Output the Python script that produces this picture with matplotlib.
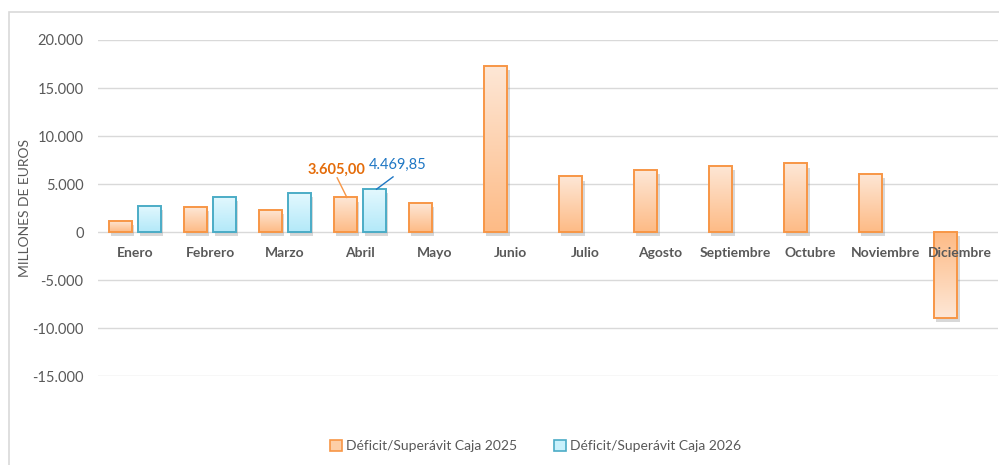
import matplotlib
matplotlib.use("Agg")
import matplotlib.pyplot as plt
import matplotlib.patheffects as pe
import numpy as np
from matplotlib.colors import LinearSegmentedColormap
from matplotlib.patches import Patch, Rectangle

months = ["Enero", "Febrero", "Marzo", "Abril", "Mayo", "Junio", "Julio",
          "Agosto", "Septiembre", "Octubre", "Noviembre", "Diciembre"]
caja_2025 = [1150, 2600, 2350, 3605.00, 3000, 17300, 5800, 6450, 6900, 7150, 6100, -8950]
caja_2026 = [2750, 3700, 4050, 4469.85]
series_names = ["Déficit/Superávit Caja 2025", "Déficit/Superávit Caja 2026"]
yticks = [-15000, -10000, -5000, 0, 5000, 10000, 15000, 20000]

plt.rcParams["font.family"] = ["Lato", "DejaVu Sans"]
grey_txt = "#595959"
orange_edge = "#f79646"
blue_edge = "#4bacc6"
orange_cmap = LinearSegmentedColormap.from_list("o", ["#fdbb86", "#fee7d6"])
blue_cmap = LinearSegmentedColormap.from_list("b", ["#b3e9f9", "#e3f8fe"])


def fmt_es(v):
    s = f"{abs(v):,.0f}".replace(",", ".")
    return ("-" if v < 0 else "") + s


fig = plt.figure(figsize=(9.99, 4.65), dpi=100)
ax = fig.add_axes([0.0976, 0.191, 0.901, 0.723])

# outer chart border
fig.patches.append(Rectangle((9 / 999, -0.05), 1.2, 1 - 12 / 465 + 0.05,
                             transform=fig.transFigure, fill=False,
                             edgecolor="#d9d9d9", linewidth=1.2))

x = np.arange(len(months))
w = 0.31
off = 0.19
shadow = [pe.SimplePatchShadow(offset=(1.5, -3), shadow_rgbFace="#7f7f7f", alpha=0.3), pe.Normal()]


def gradient_bars(xs, vals, cmap, edge, label):
    # shadow layer underneath
    base = ax.bar(xs, vals, w, facecolor="white", edgecolor="none", zorder=2.5)
    for b in base:
        b.set_path_effects(shadow)
    bars = ax.bar(xs, vals, w, facecolor="none", edgecolor=edge, linewidth=1.4,
                  label=label, zorder=3)
    for b, v in zip(bars, vals):
        grad = np.linspace(0, 1, 100).reshape(-1, 1)
        if v < 0:
            grad = grad[::-1]
        y0, y1 = sorted([0, v])
        im = ax.imshow(grad, cmap=cmap, aspect="auto", origin="lower",
                       extent=[b.get_x(), b.get_x() + b.get_width(), y0, y1],
                       zorder=2.9)
        im.set_clip_path(b)
    return bars


gradient_bars(x - off, caja_2025, orange_cmap, orange_edge, series_names[0])
gradient_bars(x[:len(caja_2026)] + off, caja_2026, blue_cmap, blue_edge, series_names[1])

ax.set_xlim(-0.5, len(months) - 0.5)
ax.set_ylim(-15000, 20000)
ax.set_yticks(yticks)
ax.set_yticklabels([fmt_es(v) for v in yticks], color=grey_txt, fontsize=10.5)
ax.set_xticks([])
ax.tick_params(axis="y", length=0, pad=10)
ax.grid(axis="y", color="#d9d9d9", linewidth=1, zorder=0)
ax.set_axisbelow(True)
for s in ax.spines.values():
    s.set_visible(False)

for xi, m in zip(x, months):
    ax.text(xi, -2150, m, ha="center", va="center", fontsize=10,
            fontweight="bold", color=grey_txt, zorder=4)

ax.set_ylabel("MILLONES DE EUROS", color=grey_txt, fontsize=10)
ax.yaxis.set_label_coords(-0.074, 0.5)

# data labels for Abril, with leader lines
i = 3
ax.text(i - 0.31, 6450, "3.605,00", ha="center", va="center", fontsize=10.5,
        fontweight="bold", color="#e46c0a")
ax.plot([i - 0.305, i - 0.175], [5650, caja_2025[i]], color="#f79646", lw=1, zorder=4)
ax.text(i + 0.5, 6980, "4.469,85", ha="center", va="center", fontsize=10.5,
        color="#1f77c4")
ax.plot([i + 0.44, i + 0.22], [5750, caja_2026[i]], color="#1f77c4", lw=1, zorder=4)

handles = [Patch(facecolor="#fdcfa8", edgecolor=orange_edge, linewidth=1.2),
           Patch(facecolor="#c9f1fc", edgecolor=blue_edge, linewidth=1.2)]
fig.legend(handles, series_names, loc="center", bbox_to_anchor=(0.536, 0.041), ncol=2,
           frameon=False, fontsize=10, labelcolor=grey_txt, columnspacing=2.6,
           handlelength=0.9, handleheight=0.9, handletextpad=0.3)

fig.savefig("out.png", dpi=100)
